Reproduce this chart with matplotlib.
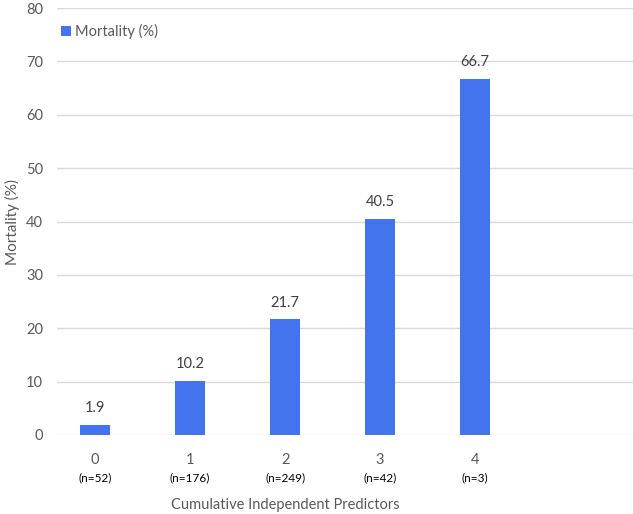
import matplotlib.pyplot as plt
import matplotlib.transforms as mtransforms

categories = ['0', '1', '2', '3', '4']
counts = ['(n=52)', '(n=176)', '(n=249)', '(n=42)', '(n=3)']
mortality = [1.9, 10.2, 21.7, 40.5, 66.7]

plt.rcParams['font.family'] = ['Lato', 'DejaVu Sans']

fig = plt.figure(figsize=(6.33, 5.14), dpi=100)
ax = fig.add_axes([0.090, 0.1537, 0.91, 0.8307])

bar_color = '#4374EE'
x = list(range(len(categories)))
bars = ax.bar(x, mortality, width=0.32, color=bar_color, label='Mortality (%)', zorder=3)

for xi, v in zip(x, mortality):
    ax.text(xi, v + 1.8, f'{v}', ha='center', va='bottom', fontsize=10.5, color='#404040')

ax.set_xlim(-0.4, 5.66)
ax.set_ylim(0, 80)
ax.set_yticks(range(0, 81, 10))
ax.set_xticks(x)
ax.set_xticklabels(categories)
ax.tick_params(axis='both', length=0, labelsize=10.5, colors='#595959')
ax.tick_params(axis='x', pad=13)
ax.tick_params(axis='y', pad=10)

trans = mtransforms.blended_transform_factory(ax.transData, ax.transAxes)
for xi, c in zip(x, counts):
    ax.text(xi, -0.101, c, transform=trans, ha='center', va='center', fontsize=8.5, color='#000000')

ax.grid(axis='y', color='#D9D9D9', linewidth=1, zorder=0)
for s in ax.spines.values():
    s.set_visible(False)

ax.set_xlabel('Cumulative Independent Predictors', fontsize=10.5, color='#595959')
ax.xaxis.set_label_coords(2, -0.163, transform=trans)
ax.xaxis.label.set_va('center')
ax.set_ylabel('Mortality (%)', fontsize=11, color='#595959')
ax.yaxis.set_label_coords(-0.078, 0.5)
ax.yaxis.label.set_va('center')

ax.legend(loc='center left', bbox_to_anchor=(-0.006, 0.944), frameon=False, fontsize=10.5,
          handlelength=0.7, handleheight=0.7, handletextpad=0.3, labelcolor='#595959',
          borderpad=0)

fig.savefig('out.png', dpi=100)
